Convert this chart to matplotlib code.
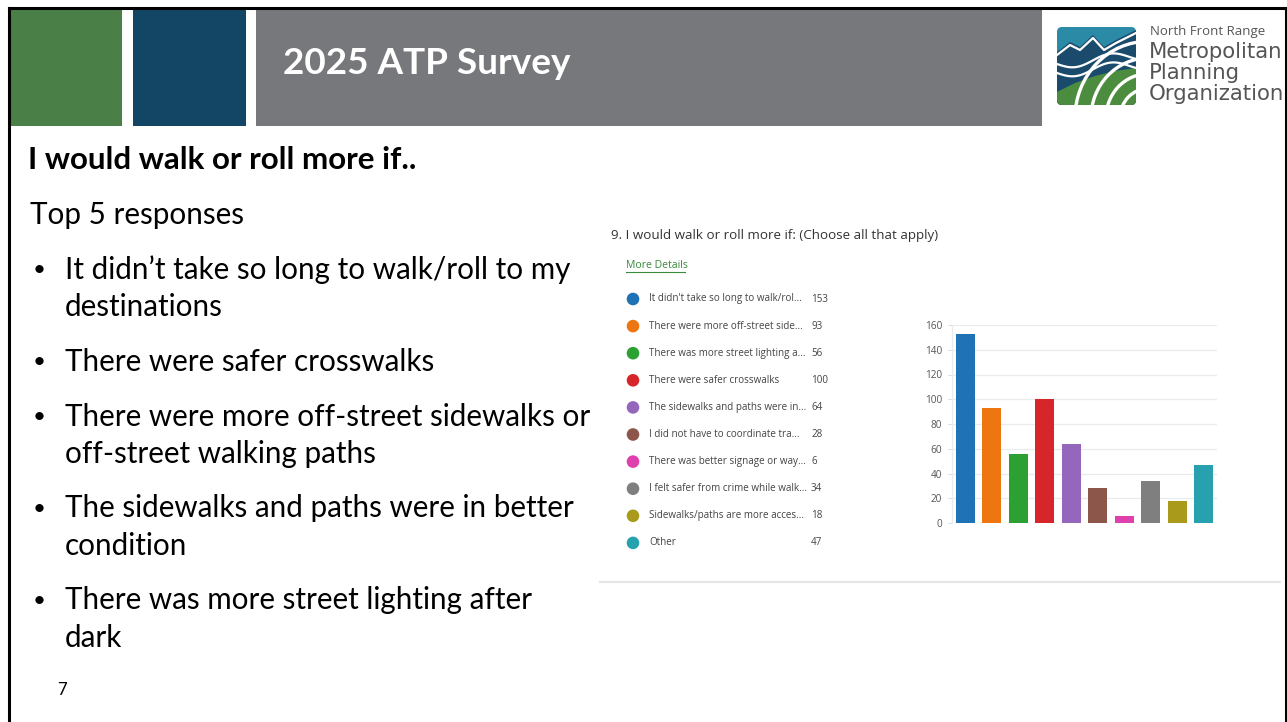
import matplotlib
matplotlib.use("Agg")
import matplotlib.pyplot as plt
from matplotlib.patches import Rectangle, Circle, FancyBboxPatch, Polygon, Arc
import numpy as np

# ---------------- data ----------------
slide_title = "2025 ATP Survey"
heading = "I would walk or roll more if.."
subheading = "Top 5 responses"
bullets = [
    ["It didn\u2019t take so long to walk/roll to my", "destinations"],
    ["There were safer crosswalks"],
    ["There were more off-street sidewalks or", "off-street walking paths"],
    ["The sidewalks and paths were in better", "condition"],
    ["There was more street lighting after", "dark"],
]
chart_title = "9. I would walk or roll more if: (Choose all that apply)"
categories = [
    "It didn't take so long to walk/rol...",
    "There were more off-street side...",
    "There was more street lighting a...",
    "There were safer crosswalks",
    "The sidewalks and paths were in...",
    "I did not have to coordinate tra...",
    "There was better signage or way...",
    "I felt safer from crime while walk...",
    "Sidewalks/paths are more acces...",
    "Other",
]
counts = [153, 93, 56, 100, 64, 28, 6, 34, 18, 47]
colors = ["#1f72b5", "#ee7611", "#2ca033", "#d7262b", "#9467bd",
          "#8c564b", "#e040ad", "#7f7f7f", "#a99a1c", "#27a1ae"]
yticks = [0, 20, 40, 60, 80, 100, 120, 140, 160]

W, H = 1287, 722
fig = plt.figure(figsize=(W / 100, H / 100), dpi=100)
fig.patch.set_facecolor("white")

# pixel-coordinate background axes
bg = fig.add_axes([0, 0, 1, 1])
bg.set_xlim(0, W)
bg.set_ylim(H, 0)
bg.axis("off")

FONT = "Lato"

# border
bg.plot([9, 9], [8, H], color="black", lw=2.2)
bg.plot([9, 1286], [8, 8], color="black", lw=2.2)
bg.plot([1286, 1286], [8, H], color="black", lw=2.2)

# header blocks
bg.add_patch(Rectangle((10, 9), 112, 117, color="#4a7f47", lw=0))
bg.add_patch(Rectangle((133, 9), 113, 117, color="#134665", lw=0))
bg.add_patch(Rectangle((256, 9), 786, 117, color="#77787b", lw=0))
bg.text(283, 64, slide_title, color="white", fontsize=26.6, fontweight="bold",
        family=FONT, va="center", ha="left")

# logo
clip = FancyBboxPatch((1057, 27), 79, 78, boxstyle="round,pad=0,rounding_size=5",
                      facecolor="#2b8aa6", edgecolor="none")
bg.add_patch(clip)
dark = Polygon([(1057, 52), (1070, 42), (1080, 47), (1093, 35), (1104, 47),
                (1116, 40), (1136, 30), (1136, 105), (1057, 105)],
               closed=True, facecolor="#1a4a6c", edgecolor="none")
bg.add_patch(dark)
dark.set_clip_path(clip)
for pts in [[(1057, 55), (1070, 45), (1080, 50), (1093, 38), (1104, 50), (1116, 43), (1136, 33)]]:
    xs, ys = zip(*pts)
    ln, = bg.plot(xs, ys, color="white", lw=1.6)
    ln.set_clip_path(clip)
tt = np.linspace(0, 1, 50)
for off in [0, 9]:
    xs = 1057 + 79 * tt
    ys = 64 + off + 5 * np.sin(tt * 2 * np.pi * 1.1) - 8 * tt
    ln, = bg.plot(xs, ys, color="white", lw=1.6)
    ln.set_clip_path(clip)
green = Polygon([(1057, 92), (1075, 83), (1095, 76), (1115, 71), (1136, 68),
                 (1136, 105), (1057, 105)],
                closed=True, facecolor="#4c8c3f", edgecolor="none")
bg.add_patch(green)
green.set_clip_path(clip)
for r in [14, 28, 42, 57, 73]:
    a = Arc((1148, 118), 2 * r, 2 * r * 1.05, theta1=180, theta2=270,
            color="white", lw=2.4)
    bg.add_patch(a)
    a.set_clip_path(clip)

bg.text(1150, 32, "North Front Range", color="#555555", fontsize=9.5, family="Open Sans",
        va="center", ha="left")
for i, t in enumerate(["Metropolitan", "Planning", "Organization"]):
    bg.text(1149, 52 + 21 * i, t, color="#555555", fontsize=15.3, family="DejaVu Sans",
            va="center", ha="left")

# left text
bg.text(28, 160, heading, fontsize=22.6, fontweight="bold", family=FONT,
        color="black", va="center", ha="left")
bg.text(30, 215, subheading, fontsize=21.3, family=FONT, color="black",
        va="center", ha="left")
y = 270
for item in bullets:
    bg.text(33, y, "\u2022", fontsize=16, family=FONT, va="center", ha="left")
    for line in item:
        bg.text(65, y, line, fontsize=21.3, family=FONT, color="black",
                va="center", ha="left")
        y += 37.5
    y += 17
bg.text(57, 690, "7", fontsize=12, family=FONT, va="center", ha="left")

# chart panel
bg.plot([600, 1280], [582, 582], color="#e6e6e6", lw=1.5)
bg.text(611, 236, chart_title, fontsize=9.6, family="Open Sans", color="#333333",
        va="center", ha="left")
bg.text(626, 266, "More Details", fontsize=7.6, family="Open Sans", color="#3a8a3a",
        va="center", ha="left")
bg.plot([626, 685], [272, 272], color="#3a8a3a", lw=0.8)

for i, (lab, val, c) in enumerate(zip(categories, counts, colors)):
    yy = 299 + 27.1 * i
    bg.add_patch(Circle((633, yy), 6.3, color=c, lw=0))
    bg.text(649, yy, lab, fontsize=7.1, family="Open Sans", color="#444444",
            va="center", ha="left")
    bg.text(811, yy, str(val), fontsize=7.1, family="Open Sans", color="#444444",
            va="center", ha="left")

# bar chart
ax = fig.add_axes([952 / W, 1 - 523 / H, (1217 - 952) / W, (523 - 325) / H])
x = np.arange(len(counts))
ax.bar(x, counts, width=0.72, color=colors, zorder=3)
ax.set_xlim(-0.5, 9.5)
ax.set_ylim(0, 160)
ax.set_yticks(yticks)
ax.set_yticklabels([str(v) for v in yticks], fontsize=7.2, family="Open Sans", color="#555555")
ax.set_xticks([])
ax.grid(axis="y", color="#e8ecef", lw=0.9, zorder=0)
for s in ["top", "right", "bottom"]:
    ax.spines[s].set_visible(False)
ax.spines["left"].set_color("#e8ecef")
ax.spines["left"].set_linewidth(0.9)
ax.tick_params(axis="y", length=3, color="#dddddd", pad=4)
ax.set_facecolor("none")

fig.savefig("out.png", dpi=100, facecolor="white")
